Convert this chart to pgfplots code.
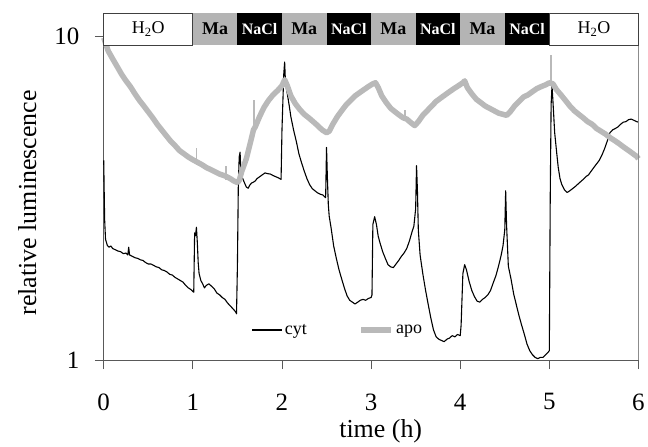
\documentclass[border=0pt]{standalone}
\usepackage{pgfplots}
\pgfplotsset{compat=1.18}
\usepackage{fontspec}
\setmainfont{Liberation Serif}
\definecolor{apocol}{RGB}{185,185,185}
\definecolor{bandgray}{RGB}{180,180,180}
\begin{document}
\begin{tikzpicture}
\begin{axis}[
 scale only axis, width=536pt, height=325pt,
 xmin=0, xmax=6, ymin=1, ymax=10, ymode=log,
 axis x line*=bottom, axis y line*=left,
 axis line style={black!65, line width=0.8pt},
 xtick={0,1,2,3,4,5,6}, xticklabels={0,1,2,3,4,5,6},
 ytick={1,10}, yticklabels={1,10},
 yminorticks=false,
 tick align=outside, major tick length=9pt,
 tick style={black!65, line width=0.8pt},
 ticklabel style={font=\fontsize{25}{25}\selectfont},
 xticklabel style={yshift=-21pt},
 yticklabel style={xshift=-12pt},
 xlabel={time (h)}, ylabel={relative luminescence},
 label style={font=\fontsize{26}{26}\selectfont},
 xlabel style={at={(axis description cs:0.518,-0.219)}, anchor=center},
 ylabel style={at={(axis description cs:-0.143,0.485)}, anchor=center},
 clip=false,
 unbounded coords=jump,
 legend style={draw=none, fill=none, at={(axis description cs:0.271,0.093)}, anchor=west,
   legend columns=2, font=\fontsize{18}{18}\selectfont,
   /tikz/every even column/.append style={column sep=50pt}},
 legend image code/.code={\draw[#1] (0pt,0pt) -- (30pt,0pt);},
]
\addplot[black, line width=1.1pt, line join=round] coordinates {
(0.000,4.13) (0.005,3.33) (0.010,2.72) (0.02,2.36) (0.04,2.26) (0.06,2.23) (0.08,2.25) (0.10,2.21)
(0.13,2.19) (0.16,2.17) (0.19,2.16) (0.22,2.13) (0.25,2.14) (0.27,2.11) (0.28,2.23) (0.29,2.11)
(0.32,2.09) (0.35,2.07) (0.38,2.06) (0.41,2.04) (0.44,2.03) (0.47,2.00) (0.50,1.98) (0.53,1.98)
(0.56,1.96) (0.59,1.94) (0.62,1.93) (0.65,1.90) (0.68,1.89) (0.71,1.87) (0.74,1.84) (0.77,1.83)
(0.80,1.80) (0.83,1.78) (0.86,1.76) (0.89,1.74) (0.92,1.70) (0.95,1.67) (0.98,1.65) (1.01,1.62)
(1.02,2.47) (1.03,2.42) (1.04,2.57) (1.05,2.31) (1.06,2.00) (1.07,1.85) (1.09,1.76) (1.11,1.72)
(1.13,1.67) (1.15,1.70) (1.18,1.72) (1.21,1.69) (1.24,1.66) (1.27,1.61) (1.30,1.59) (1.33,1.56)
(1.36,1.54) (1.39,1.50) (1.42,1.47) (1.45,1.44) (1.48,1.41) (1.49,1.39) (1.50,1.95) (1.51,3.43)
(1.52,4.23) (1.53,4.38) (1.54,3.73) (1.56,3.63) (1.58,3.52) (1.60,3.42) (1.62,3.39) (1.64,3.47)
(1.66,3.52) (1.68,3.54) (1.70,3.57) (1.72,3.63) (1.75,3.68) (1.78,3.73) (1.81,3.78) (1.84,3.76)
(1.87,3.75) (1.90,3.71) (1.93,3.68) (1.96,3.65) (1.99,3.61) (2.00,5.13) (2.02,7.62) (2.03,8.31)
(2.04,7.12) (2.06,6.63) (2.08,6.13) (2.10,5.63) (2.13,5.13) (2.16,4.74) (2.19,4.33) (2.22,4.06)
(2.25,3.83) (2.28,3.63) (2.31,3.48) (2.34,3.38) (2.37,3.33) (2.40,3.28) (2.43,3.25) (2.46,3.23)
(2.49,3.17) (2.50,4.53) (2.51,3.63) (2.52,3.02) (2.53,2.78) (2.55,2.57) (2.58,2.25) (2.61,2.06)
(2.64,1.90) (2.67,1.78) (2.70,1.67) (2.73,1.58) (2.76,1.53) (2.79,1.51) (2.82,1.49) (2.85,1.51)
(2.88,1.53) (2.91,1.54) (2.94,1.53) (2.97,1.55) (3.00,1.56) (3.01,1.59) (3.02,2.62) (3.04,2.77)
(3.06,2.62) (3.08,2.41) (3.10,2.30) (3.13,2.16) (3.16,2.06) (3.19,1.97) (3.22,1.94) (3.25,1.93)
(3.28,1.98) (3.31,2.03) (3.34,2.09) (3.37,2.14) (3.40,2.21) (3.43,2.33) (3.46,2.49) (3.48,2.59)
(3.50,2.93) (3.51,3.98) (3.52,3.33) (3.53,2.52) (3.55,2.11) (3.58,1.85) (3.61,1.65) (3.64,1.49)
(3.67,1.35) (3.70,1.24) (3.73,1.18) (3.76,1.16) (3.79,1.15) (3.82,1.14) (3.85,1.16) (3.88,1.17)
(3.91,1.19) (3.94,1.18) (3.97,1.20) (4.00,1.19) (4.01,1.28) (4.03,1.85) (4.05,1.97) (4.07,1.90)
(4.10,1.75) (4.13,1.64) (4.16,1.57) (4.19,1.52) (4.22,1.51) (4.25,1.54) (4.28,1.56) (4.31,1.59)
(4.34,1.64) (4.37,1.73) (4.40,1.82) (4.43,1.95) (4.46,2.11) (4.48,2.25) (4.50,2.52) (4.51,3.33)
(4.52,2.62) (4.54,1.95) (4.57,1.78) (4.60,1.60) (4.63,1.48) (4.66,1.37) (4.69,1.28) (4.72,1.20)
(4.75,1.12) (4.78,1.07) (4.81,1.04) (4.84,1.02) (4.87,1.01) (4.90,1.02) (4.93,1.02) (4.96,1.04)
(4.99,1.06) (5.00,1.07) (5.01,3.12) (5.02,6.13) (5.03,7.02) (5.04,6.33) (5.06,5.03) (5.08,4.43)
(5.10,3.93) (5.12,3.63) (5.14,3.48) (5.17,3.35) (5.20,3.29) (5.23,3.33) (5.26,3.38) (5.29,3.43)
(5.32,3.49) (5.35,3.55) (5.38,3.61) (5.41,3.68) (5.44,3.73) (5.47,3.83) (5.50,3.93) (5.53,4.03)
(5.56,4.13) (5.59,4.29) (5.62,4.49) (5.65,4.74) (5.68,5.03) (5.71,5.13) (5.74,5.18) (5.77,5.24)
(5.80,5.34) (5.83,5.42) (5.86,5.44) (5.89,5.52) (5.92,5.54) (5.95,5.49) (5.98,5.44) (6.00,5.42)
};
\addlegendentry{cyt}
\addplot[apocol, line width=5.5pt, line join=round] coordinates {
(0.00,9.87) (0.05,8.99) (0.10,8.50) (0.15,8.05) (0.20,7.62) (0.25,7.27) (0.30,6.97) (0.35,6.63)
(0.40,6.33) (0.45,6.08) (0.50,5.83) (0.55,5.59) (0.60,5.34) (0.65,5.13) (0.70,4.93) (0.75,4.74)
(0.80,4.59) (0.85,4.43) (0.90,4.33) (0.95,4.23) (1.00,4.15) (1.05,4.08) (1.10,4.01) (1.15,3.93)
(1.20,3.87) (1.25,3.81) (1.30,3.75) (1.35,3.71) (1.38,3.68) (1.42,3.63) (1.46,3.57) (1.50,3.53)
(1.52,3.58) (1.55,3.83) (1.60,4.18) (1.65,4.74) (1.68,5.13) (1.70,5.24) (1.75,5.65) (1.80,6.03)
(1.85,6.33) (1.90,6.58) (1.95,6.78) (2.00,7.02) (2.03,7.33) (2.06,7.02) (2.10,6.53) (2.15,6.18)
(2.20,5.93) (2.25,5.73) (2.30,5.59) (2.35,5.44) (2.40,5.29) (2.45,5.13) (2.50,5.03) (2.53,5.08)
(2.57,5.34) (2.62,5.63) (2.67,5.88) (2.72,6.13) (2.77,6.33) (2.82,6.53) (2.87,6.68) (2.92,6.83)
(2.97,6.98) (3.02,7.12) (3.05,7.17) (3.08,6.93) (3.12,6.53) (3.17,6.23) (3.22,5.98) (3.27,5.83)
(3.32,5.69) (3.36,5.59) (3.40,5.54) (3.45,5.39) (3.49,5.29) (3.53,5.44) (3.58,5.69) (3.63,5.88)
(3.68,6.08) (3.73,6.28) (3.78,6.43) (3.83,6.58) (3.88,6.73) (3.93,6.88) (3.98,7.02) (4.03,7.17)
(4.05,7.27) (4.08,6.93) (4.13,6.63) (4.18,6.38) (4.23,6.23) (4.28,6.08) (4.33,5.98) (4.38,5.88)
(4.43,5.78) (4.48,5.73) (4.52,5.69) (4.56,5.83) (4.61,6.08) (4.66,6.28) (4.71,6.48) (4.76,6.58)
(4.81,6.73) (4.86,6.88) (4.91,6.98) (4.96,7.07) (5.00,7.17) (5.04,7.12) (5.08,6.83) (5.13,6.58)
(5.18,6.33) (5.23,6.08) (5.28,5.88) (5.33,5.73) (5.38,5.59) (5.43,5.44) (5.48,5.34) (5.53,5.18)
(5.58,5.08) (5.63,4.98) (5.68,4.86) (5.73,4.76) (5.78,4.66) (5.83,4.55) (5.88,4.45) (5.93,4.35)
(5.98,4.25) (6.00,4.18)
};
\addlegendentry{apo}
\addplot[apocol, line width=1.8pt, forget plot] coordinates {
(1.04,4.0) (1.04,4.5) (1.04,nan)
(1.37,3.6) (1.37,3.98) (1.37,nan)
(1.69,5.2) (1.69,6.35) (1.69,nan)
(3.38,5.5) (3.38,5.9) (3.38,nan)
(5.02,7.1) (5.02,8.75)
};
% right frame line
\draw[black!45, line width=0.8pt] (rel axis cs:1,0) -- (rel axis cs:1,0.972);
% treatment band
\def\bb{0.972}\def\bt{1.071}\def\bc{1.0215}
\filldraw[fill=white, draw=black!75, line width=0.8pt] (rel axis cs:0,\bb) rectangle (rel axis cs:0.16667,\bt);
\fill[bandgray] (rel axis cs:0.16667,\bb) rectangle (rel axis cs:0.25,\bt);
\fill[black] (rel axis cs:0.25,\bb) rectangle (rel axis cs:0.33333,\bt);
\fill[bandgray] (rel axis cs:0.33333,\bb) rectangle (rel axis cs:0.41667,\bt);
\fill[black] (rel axis cs:0.41667,\bb) rectangle (rel axis cs:0.5,\bt);
\fill[bandgray] (rel axis cs:0.5,\bb) rectangle (rel axis cs:0.58333,\bt);
\fill[black] (rel axis cs:0.58333,\bb) rectangle (rel axis cs:0.66667,\bt);
\fill[bandgray] (rel axis cs:0.66667,\bb) rectangle (rel axis cs:0.75,\bt);
\fill[black] (rel axis cs:0.75,\bb) rectangle (rel axis cs:0.83333,\bt);
\filldraw[fill=white, draw=black!75, line width=0.8pt] (rel axis cs:0.83333,\bb) rectangle (rel axis cs:1,\bt);
\begin{scope}[every node/.style={font=\fontsize{18}{18}\selectfont, inner sep=0pt, anchor=center}]
\node at (rel axis cs:0.08333,\bc) {H\textsubscript{2}O};
\node at (rel axis cs:0.91667,\bc) {H\textsubscript{2}O};
\node[font=\fontsize{18}{18}\selectfont\bfseries] at (rel axis cs:0.20833,\bc) {Ma};
\node[font=\fontsize{18}{18}\selectfont\bfseries] at (rel axis cs:0.375,\bc) {Ma};
\node[font=\fontsize{18}{18}\selectfont\bfseries] at (rel axis cs:0.54167,\bc) {Ma};
\node[font=\fontsize{18}{18}\selectfont\bfseries] at (rel axis cs:0.70833,\bc) {Ma};
\node[white, font=\fontsize{16}{16}\selectfont\bfseries] at (rel axis cs:0.29167,\bc) {NaCl};
\node[white, font=\fontsize{16}{16}\selectfont\bfseries] at (rel axis cs:0.45833,\bc) {NaCl};
\node[white, font=\fontsize{16}{16}\selectfont\bfseries] at (rel axis cs:0.625,\bc) {NaCl};
\node[white, font=\fontsize{16}{16}\selectfont\bfseries] at (rel axis cs:0.79167,\bc) {NaCl};
\end{scope}
\path (rel axis cs:-0.194,-0.2554) rectangle (rel axis cs:1.015,1.1108);
\end{axis}
\end{tikzpicture}
\end{document}
